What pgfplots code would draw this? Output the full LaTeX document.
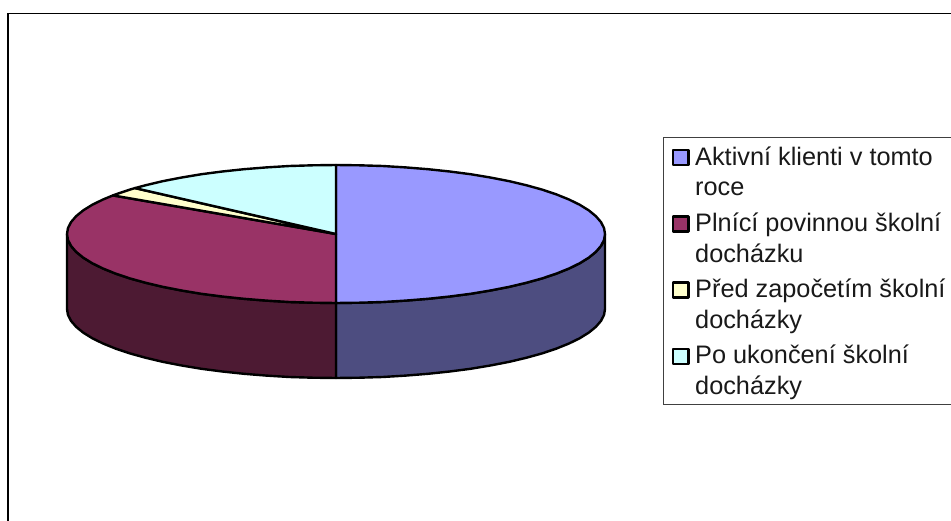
\documentclass[border=0pt]{standalone}
\usepackage{pgfplots}
\pgfplotsset{compat=1.18}
\usepackage{fontspec}
\setmainfont{Liberation Sans}
\definecolor{cBlue}{HTML}{9999FF}
\definecolor{cMaroon}{HTML}{993366}
\definecolor{cYellow}{HTML}{FFFFCC}
\definecolor{cCyan}{HTML}{CCFFFF}
\definecolor{dBlue}{HTML}{4D4D80}
\definecolor{dMaroon}{HTML}{4D1A33}
\tikzset{pl/.style={draw=black, line width=2.4bp, line join=round}}
\begin{document}
\begin{tikzpicture}
\useasboundingbox (0,0) rectangle (951bp,521bp);
\begin{axis}[
  at={(0,0)}, anchor=south west,
  axis line style={draw=none}, ticks=none, scale only axis,
  width=951bp, height=521bp,
  xmin=0, xmax=951, ymin=0, ymax=521, y dir=reverse
]
% chart frame
\addplot[black, line width=1.9bp] coordinates {(8,521) (8,13.5) (951,13.5)};
% side of the blue slice
\addplot[pl, fill=dBlue] coordinates {
(605,234)(604,240)(600.9,246)(595.8,251.9)(588.8,257.6)(579.8,263.2)(569,268.5)(556.4,273.6)(542.1,278.4)(526.2,282.8)(508.9,286.9)(490.3,290.5)(470.5,293.8)(449.7,296.5)(428,298.8)(405.6,300.6)(382.7,302)(359.4,302.7)(336,303)
(336,378)(359.4,377.7)(382.7,377)(405.6,375.6)(428,373.8)(449.7,371.5)(470.5,368.8)(490.3,365.5)(508.9,361.9)(526.2,357.8)(542.1,353.4)(556.4,348.6)(569,343.5)(579.8,338.2)(588.8,332.6)(595.8,326.9)(600.9,321)(604,315)(605,309)
} --cycle;
% side of the maroon slice
\addplot[pl, fill=dMaroon] coordinates {
(336,303)(312.6,302.7)(289.3,302)(266.4,300.6)(244,298.8)(222.3,296.5)(201.5,293.8)(181.7,290.5)(163.1,286.9)(145.8,282.8)(129.9,278.4)(115.6,273.6)(103,268.5)(92.2,263.2)(83.2,257.6)(76.2,251.9)(71.1,246)(68,240)(67,234)
(67,309)(68,315)(71.1,321)(76.2,326.9)(83.2,332.6)(92.2,338.2)(103,343.5)(115.6,348.6)(129.9,353.4)(145.8,357.8)(163.1,361.9)(181.7,365.5)(201.5,368.8)(222.3,371.5)(244,373.8)(266.4,375.6)(289.3,377)(312.6,377.7)(336,378)
} --cycle;
% top: blue
\addplot[pl, fill=cBlue] coordinates {
(336,234)(336,165)(359.4,165.3)(382.7,166)(405.6,167.4)(428,169.2)(449.7,171.5)(470.5,174.2)(490.3,177.5)(508.9,181.1)(526.2,185.2)(542.1,189.6)(556.4,194.4)(569,199.5)(579.8,204.8)(588.8,210.4)(595.8,216.1)(600.9,222)(604,228)(605,234)
(604,240)(600.9,246)(595.8,251.9)(588.8,257.6)(579.8,263.2)(569,268.5)(556.4,273.6)(542.1,278.4)(526.2,282.8)(508.9,286.9)(490.3,290.5)(470.5,293.8)(449.7,296.5)(428,298.8)(405.6,300.6)(382.7,302)(359.4,302.7)(336,303)
} --cycle;
% top: maroon
\addplot[pl, fill=cMaroon] coordinates {
(336,234)(336,303)(312.6,302.7)(289.3,302)(266.4,300.6)(244,298.8)(222.3,296.5)(201.5,293.8)(181.7,290.5)(163.1,286.9)(145.8,282.8)(129.9,278.4)(115.6,273.6)(103,268.5)(92.2,263.2)(83.2,257.6)(76.2,251.9)(71.1,246)(68,240)(67,234)
(68,228)(71.1,222)(76.2,216.1)(83.2,210.4)(92.2,204.8)(103,199.5)(113,195.4)
} --cycle;
% top: yellow
\addplot[pl, fill=cYellow] coordinates {
(336,234)(113,195.4)(115.6,194.4)(129.9,189.6)(135,188.1)
} --cycle;
% top: cyan
\addplot[pl, fill=cCyan] coordinates {
(336,234)(135,188.1)(145.8,185.2)(163.1,181.1)(181.7,177.5)(201.5,174.2)(222.3,171.5)(244,169.2)(266.4,167.4)(289.3,166)(312.6,165.3)(336,165)
} --cycle;
% legend frame
\addplot[draw=black!75, line width=1bp] coordinates {(951,137)(663.5,137)(663.5,404.5)(951,404.5)};
% legend swatches
\addplot[pl, fill=cBlue] coordinates {(673,150)(688.5,150)(688.5,165)(673,165)} --cycle;
\addplot[pl, fill=cMaroon] coordinates {(673,216.5)(688.5,216.5)(688.5,231.5)(673,231.5)} --cycle;
\addplot[pl, fill=cYellow] coordinates {(673,282.5)(688.5,282.5)(688.5,297.5)(673,297.5)} --cycle;
\addplot[pl, fill=cCyan] coordinates {(673,349)(688.5,349)(688.5,364)(673,364)} --cycle;
% legend text
\begin{scope}[every node/.style={anchor=base west, inner sep=0pt, font=\fontsize{25.3bp}{30bp}\selectfont, text=black!90}]
\node at (axis cs:695,165) {Aktivní klienti v tomto};
\node at (axis cs:695,195) {roce};
\node at (axis cs:695,231) {Plnící povinnou školní};
\node at (axis cs:695,262) {docházku};
\node at (axis cs:695,297) {Před započetím školní};
\node at (axis cs:695,328) {docházky};
\node at (axis cs:695,363) {Po ukončení školní};
\node at (axis cs:695,394) {docházky};
\end{scope}
\end{axis}
\end{tikzpicture}
\end{document}
